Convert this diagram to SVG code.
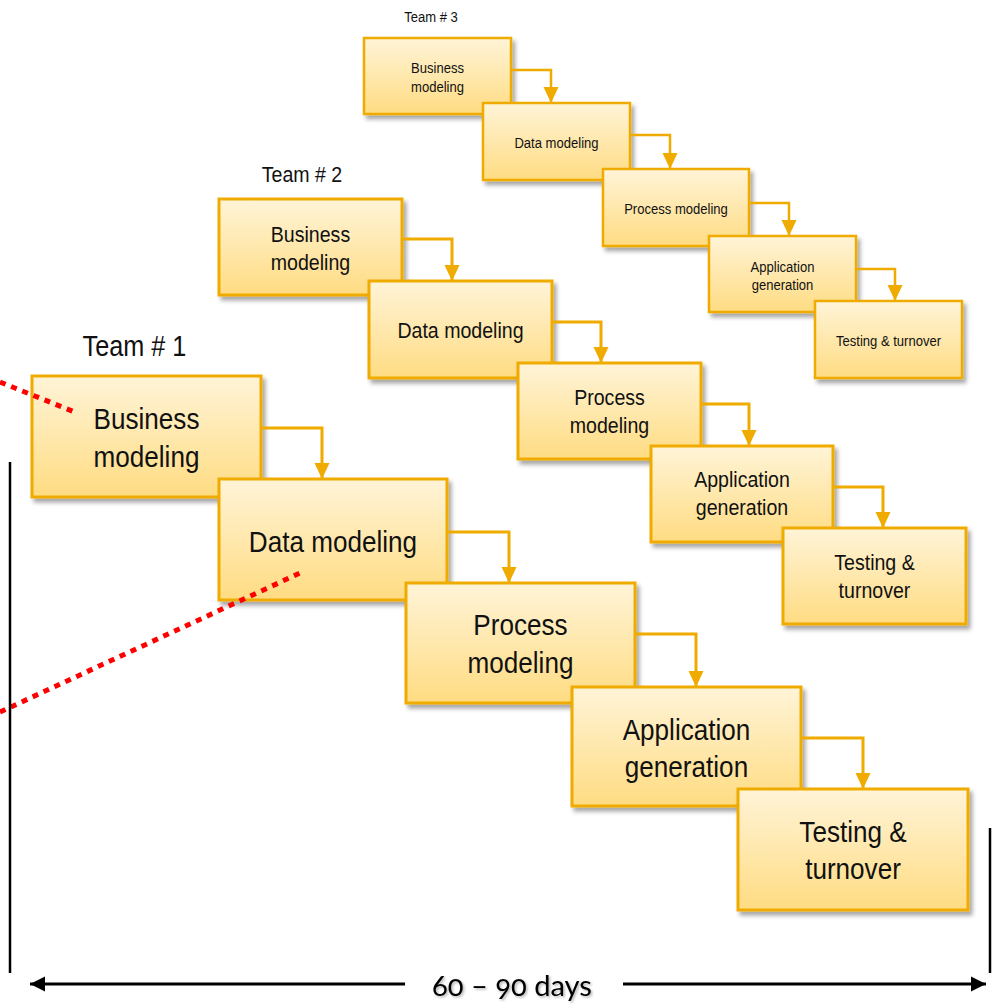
<svg xmlns="http://www.w3.org/2000/svg" width="994" height="1005" viewBox="0 0 994 1005">
  <defs>
    <linearGradient id="boxFill" x1="0" y1="0" x2="0" y2="1">
      <stop offset="0" stop-color="#FFF4D8"/>
      <stop offset="1" stop-color="#FFDC82"/>
    </linearGradient>
    <filter id="boxShadow" x="-10%" y="-10%" width="130%" height="140%">
      <feDropShadow dx="3" dy="4" stdDeviation="2.2" flood-color="#000" flood-opacity="0.35"/>
    </filter>
    <filter id="textShadow" x="-10%" y="-30%" width="120%" height="160%">
      <feDropShadow dx="1.5" dy="1.5" stdDeviation="1" flood-color="#000" flood-opacity="0.3"/>
    </filter>
    <!-- arrowheads drawn pointing along +x; orient="auto" turns them with the path -->
    <marker id="flowHead" markerUnits="userSpaceOnUse" markerWidth="17" markerHeight="16" refX="16" refY="8" orient="auto" viewBox="0 0 17 16">
      <path d="M0,0.5 L16,8 L0,15.5 Z" fill="#F0AB00"/>
    </marker>
    <marker id="spanHead" markerUnits="userSpaceOnUse" markerWidth="16" markerHeight="16" refX="15" refY="8" orient="auto" viewBox="0 0 16 16">
      <path d="M0,0.5 L15,8 L0,15.5 Z" fill="#000"/>
    </marker>
  </defs>
  <style>
    .box { fill: url(#boxFill); stroke: #F0AB00; filter: url(#boxShadow); }
    .t1 .box { stroke-width: 3; }
    .t2 .box { stroke-width: 3; }
    .t3 .box { stroke-width: 2.5; }
    .label, .team {
      font-family: "Liberation Sans", Arial, sans-serif; fill: #111;
      transform-box: fill-box; transform-origin: center; transform: scaleX(0.87);
    }
    .label { text-anchor: middle; }
    .t1 .label { font-size: 30px; }
    .t2 .label { font-size: 22.5px; }
    .t3 .label { font-size: 15px; }
    .flow { fill: none; stroke: #F0AB00; stroke-width: 3; marker-end: url(#flowHead); }
    .flow.small { stroke-width: 2.5; }
    .dotted { fill: none; stroke: #FF0000; stroke-width: 5; stroke-dasharray: 6 6; }
    .rule { stroke: #000; stroke-width: 2.5; }
    .span-label { font-family: Lato, "Open Sans", sans-serif; font-size: 29px; fill: #000;
      font-variant-numeric: oldstyle-nums; font-feature-settings: "onum" 1; }
  </style>

  <!-- team headings -->
  <text class="team" x="431" y="22" font-size="15" text-anchor="middle">Team # 3</text>
  <text class="team" x="302" y="182" font-size="22.5" text-anchor="middle">Team # 2</text>
  <text class="team" x="134.5" y="356" font-size="29" text-anchor="middle">Team # 1</text>

  <!-- Team 3 stages -->
  <g class="t3">
    <g id="t3-business">
      <rect class="box" x="364" y="38" width="147" height="76"/>
      <text class="label" x="437.5" y="73">Business</text>
      <text class="label" x="437.5" y="92">modeling</text>
    </g>
    <g id="t3-data">
      <rect class="box" x="483" y="103" width="147" height="77"/>
      <text class="label" x="556.5" y="148">Data modeling</text>
    </g>
    <g id="t3-process">
      <rect class="box" x="603" y="169" width="146" height="77"/>
      <text class="label" x="676" y="214">Process modeling</text>
    </g>
    <g id="t3-application">
      <rect class="box" x="709" y="236" width="147" height="76"/>
      <text class="label" x="782.5" y="272">Application</text>
      <text class="label" x="782.5" y="290">generation</text>
    </g>
    <g id="t3-testing">
      <rect class="box" x="815" y="301" width="147" height="77"/>
      <text class="label" x="888.5" y="346">Testing &amp; turnover</text>
    </g>
  </g>

  <!-- Team 2 stages -->
  <g class="t2">
    <g id="t2-business">
      <rect class="box" x="219" y="199" width="183" height="96"/>
      <text class="label" x="310.5" y="242">Business</text>
      <text class="label" x="310.5" y="270">modeling</text>
    </g>
    <g id="t2-data">
      <rect class="box" x="369" y="281" width="183" height="97"/>
      <text class="label" x="460.5" y="338">Data modeling</text>
    </g>
    <g id="t2-process">
      <rect class="box" x="518" y="363" width="183" height="96"/>
      <text class="label" x="609.5" y="405">Process</text>
      <text class="label" x="609.5" y="433">modeling</text>
    </g>
    <g id="t2-application">
      <rect class="box" x="651" y="446" width="182" height="96"/>
      <text class="label" x="742" y="487">Application</text>
      <text class="label" x="742" y="515">generation</text>
    </g>
    <g id="t2-testing">
      <rect class="box" x="783" y="528" width="183" height="96"/>
      <text class="label" x="874.5" y="570">Testing &amp;</text>
      <text class="label" x="874.5" y="598">turnover</text>
    </g>
  </g>

  <!-- Team 1 stages -->
  <g class="t1">
    <g id="t1-business">
      <rect class="box" x="32" y="376" width="229" height="121"/>
      <text class="label" x="146.5" y="429">Business</text>
      <text class="label" x="146.5" y="467">modeling</text>
    </g>
    <g id="t1-data">
      <rect class="box" x="219" y="479" width="228" height="121"/>
      <text class="label" x="333" y="552">Data modeling</text>
    </g>
    <g id="t1-process">
      <rect class="box" x="406" y="583" width="229" height="120"/>
      <text class="label" x="520.5" y="635">Process</text>
      <text class="label" x="520.5" y="673">modeling</text>
    </g>
    <g id="t1-application">
      <rect class="box" x="572" y="687" width="229" height="119"/>
      <text class="label" x="686.5" y="740">Application</text>
      <text class="label" x="686.5" y="777">generation</text>
    </g>
    <g id="t1-testing">
      <rect class="box" x="738" y="789" width="230" height="121"/>
      <text class="label" x="853" y="842">Testing &amp;</text>
      <text class="label" x="853" y="879">turnover</text>
    </g>
  </g>

  <!-- stage-to-stage connectors -->
  <g id="connectors">
    <path class="flow small" d="M511,70 H551 V103"/>
    <path class="flow small" d="M630,135 H670 V169"/>
    <path class="flow small" d="M749,203 H789 V236"/>
    <path class="flow small" d="M856,269 H895 V301"/>

    <path class="flow" d="M402,239 H452 V281"/>
    <path class="flow" d="M552,322 H601 V363"/>
    <path class="flow" d="M701,404 H749 V446"/>
    <path class="flow" d="M833,487 H883 V528"/>

    <path class="flow" d="M261,428 H322 V479"/>
    <path class="flow" d="M447,532 H509 V583"/>
    <path class="flow" d="M635,634 H696 V687"/>
    <path class="flow" d="M801,738 H863 V789"/>
  </g>

  <!-- red dotted guides -->
  <line class="dotted" x1="0" y1="382" x2="77" y2="413"/>
  <line class="dotted" x1="0" y1="712" x2="300" y2="573"/>

  <!-- duration span -->
  <line class="rule" x1="10" y1="462" x2="10" y2="973"/>
  <line class="rule" x1="990" y1="828" x2="990" y2="973"/>
  <line x1="405" y1="984" x2="30" y2="984" stroke="#000" stroke-width="3" marker-end="url(#spanHead)"/>
  <line x1="623" y1="984" x2="986" y2="984" stroke="#000" stroke-width="3" marker-end="url(#spanHead)"/>
  <text class="span-label" x="512" y="996" text-anchor="middle" filter="url(#textShadow)" textLength="160" lengthAdjust="spacingAndGlyphs">60 – 90 days</text>
</svg>
